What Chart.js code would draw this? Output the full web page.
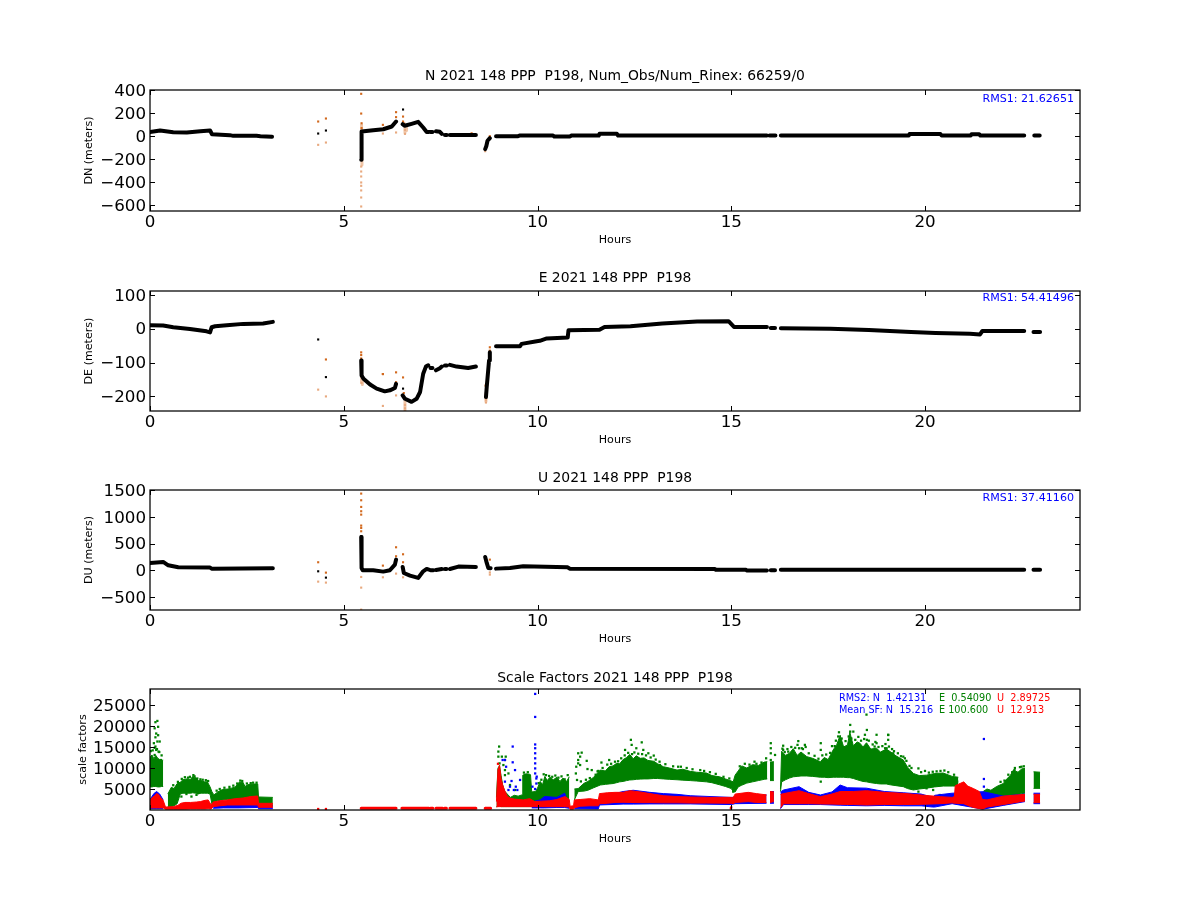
<!DOCTYPE html>
<html>
<head>
<meta charset="utf-8">
<title>PPP P198</title>
<script src="https://cdn.jsdelivr.net/npm/chart.js@4"></script>
<style>
  body { margin: 0; background: #fff; }
  canvas { position: absolute; left: 0; }
</style>
</head>
<body>
<canvas id="north"></canvas>
<canvas id="east"></canvas>
<canvas id="up"></canvas>
<canvas id="scale"></canvas>
<script>
const hourTicks = [0, 5, 10, 15, 20];
const northTicks = [-600, -400, -200, 0, 200, 400];
const eastTicks = [-200, -150, -100, -50, 0, 50, 100];
const upTicks = [-500, 0, 500, 1000, 1500];
const scaleTicks = [5000, 10000, 15000, 20000, 25000];

// null rows break the line where the receiver had no solution
const northHours = [0, .26, .6, .95, 1.3, 1.55, 1.6, 2.06, 2.15, 2.75, 2.85, 3.15, 3.2,
  5.45, 5.46, 5.76, 6.02, 6.24, 6.35, 6.4,
  6.52, 6.57, 6.75, 6.92, 7.05, 7.14, 7.2, 7.22,
  7.24, 7.29, 7.33, 7.38, 7.48, 7.53, 7.57, 7.61, 7.66, 7.7, 7.74, 8.41, 8.5,
  8.65, 8.68, 8.71, 8.77, 8.85,
  8.93, 9.5, 9.55, 10.4, 10.43, 10.84, 10.87, 11.58, 11.6, 12.05, 12.08, 15.92, 15.95,
  15.99, 16.14, 16.2, 16.28, 19.58, 19.6, 20.4, 20.43, 21.18, 21.2, 21.4, 21.43, 22.56, 22.65, 22.82, 22.96];
const northValues = [35, 49, 35, 32, 43, 49, 17, 9, 3, 3, 0, -5, null,
  -205, 40, 52, 60, 84, 127, null,
  104, 90, 107, 124, 75, 37, 37, null,
  37, 37, null, 43, 38, 20, null, 11, 11, null, 11, 11, null,
  -112, -85, -40, -17, null,
  0, 0, 6, 6, -3, -3, 5, 5, 20, 20, 5, 5, null,
  5, 5, null, 5, 5, 18, 18, 5, 5, 17, 17, 5, 5, null, 5, 5];
const northSoloHours = [4.34, 4.54, 6.53, 5.45, 5.45];
const northSoloValues = [23, 49, 231, -170, -190];
const northDarkHours = [4.34, 4.54, 5.45, 5.45, 5.46, 5.46, 6.35, 6.35, 6.01, 6.53, 6.53, 6.56, 8.77, 8.3];
const northDarkValues = [127, 153, 367, 196, 112, 70, 208, 165, 98, 170, 127, 110, 0, 25];
const northPaleHours = [4.34, 4.54, 5.45, 5.45, 5.45, 5.45, 5.45, 5.45, 5.45, 5.45, 6.01, 6.35, 6.58, 6.58, 8.65];
const northPaleValues = [-75, -55, -263, -306, -349, -401, -430, -470, -531, -609, 23, 32, 55, 20, -130];
const northHaloHours = [5.46, 5.46, 5.46, 5.47, 5.47, 5.5, 6.58, 6.58, 6.6, 6.62, 6.62];
const northHaloValues = [100, 40, null, -210, -250, null, 80, 30, null, 90, 50];

const eastHours = [0, .34, .6, 1.03, 1.46, 1.55, 1.59, 1.68, 1.98, 2.41, 2.92, 3.17, 3.2,
  5.45, 5.46, 5.51, 5.68, 5.85, 6.06, 6.19, 6.32, 6.35, 6.4,
  6.52, 6.58, 6.75, 6.88, 6.97, 7.05, 7.12, 7.18, 7.22,
  7.24, 7.29, 7.33, 7.38, 7.48, 7.53, 7.57, 7.61, 7.66, 7.7, 7.74, 7.91, 8.21, 8.41, 8.5,
  8.67, 8.69, 8.75, 8.77, 8.85,
  8.93, 9.55, 9.59, 9.98, 10.06, 10.24, 10.78, 10.8, 11.6, 11.73, 12.4, 13.22, 14.12, 14.93, 15.07, 15.92, 15.95,
  16.02, 16.13, 16.2, 16.28, 17.56, 18.55, 19.64, 20.27, 21.16, 21.42, 21.48, 22.56, 22.65, 22.8, 22.97];
const eastValues = [10, 9, 4, -1, -8, -11, 4, 7, 10, 14, 15, 20, null,
  -94, -138, -148, -165, -177, -185, -182, -175, -163, null,
  -197, -207, -216, -207, -187, -133, -112, -108, null,
  -116, -116, null, -123, -117, -112, null, -109, -109, null, -107, -112, -116, -112, null,
  -202, -172, -94, -70, null,
  -52, -52, -45, -37, -36, -29, -26, -5, -3, 5, 7, 15, 21, 22, 5, 5, null,
  2, 2, null, 1, 0, -4, -10, -13, -15, -17, -7, -7, null, -10, -10];
const eastSoloHours = [4.34, 4.54, 6.53];
const eastSoloValues = [-32, -143, -177];
const eastDarkHours = [4.54, 5.45, 5.45, 5.45, 6.01, 6.35, 6.53, 6.01, 8.66, 8.77, 8.77, 6.35, 6.55];
const eastDarkValues = [-91, -70, -78, -88, -134, -129, -144, -134, -168, -55, -65, -158, -190];
const eastPaleHours = [4.34, 4.54, 6.01, 6.35, 6.58, 6.58, 6.58, 8.67, 8.67, 5.46];
const eastPaleValues = [-180, -200, -228, -197, -225, -235, -243, -210, -218, -160];
const eastHaloHours = [5.46, 5.46, 5.47, 5.48, 5.48, 5.5, 6.58, 6.58, 6.6, 8.67, 8.67];
const eastHaloValues = [-130, -160, null, -140, -165, null, -215, -243, null, -190, -215];

const upHours = [0, .34, .47, .73, 1.55, 1.59, 3.17, 3.2,
  5.45, 5.46, 5.49, 5.76, 6.02, 6.19, 6.32, 6.35, 6.4,
  6.52, 6.55, 6.71, 6.92, 7.05, 7.14, 7.2, 7.22,
  7.24, 7.31, 7.34, 7.38, 7.53, 7.57, 7.61, 7.65, 7.7, 7.74, 7.96, 8.41, 8.5,
  8.65, 8.69, 8.73, 8.79, 8.85,
  8.93, 9.29, 9.63, 10.78, 10.83, 14.58, 14.6, 15.38, 15.4, 15.92, 15.95,
  16.02, 16.13, 16.2, 16.28, 22.56, 22.65, 22.8, 22.97];
const upValues = [137, 156, 93, 56, 50, 31, 37, null,
  623, 43, 0, 0, -25, 0, 106, 199, null,
  62, -50, -100, -143, -19, 25, 12, null,
  0, 0, null, 6, 25, null, 25, 25, null, 25, 69, 62, null,
  249, 137, 44, 37, null,
  31, 44, 75, 56, 31, 25, 12, 12, -6, -6, null,
  0, 0, null, 12, 12, null, 12, 12];
const upSoloHours = [4.34, 4.54, 5.45, 5.45, 5.45, 5.45];
const upSoloValues = [-19, -137, 500, 400, 300, 560];
const upDarkHours = [4.34, 4.54, 5.45, 5.45, 5.45, 5.45, 5.45, 5.45, 5.45, 5.45, 5.45, 6.01, 6.35, 6.35, 6.53, 6.53, 8.77];
const upDarkValues = [150, -44, 1433, 1308, 1184, 1103, 1040, 835, 791, 729, 635, 87, 430, 262, 299, 150, 199];
const upPaleHours = [4.34, 4.54, 5.45, 5.45, 5.45, 6.01, 6.35, 6.53, 8.77, 8.77];
const upPaleValues = [-212, -230, -125, -324, -735, -131, -62, -131, -81, -40];

const greenHours = [0, .05, .1, .15, .2, .25, .3, .34, .4,
  .46, .55, .62, .7, .78, .85, .95, 1.05, 1.1, 1.18, 1.25, 1.32, 1.4, 1.48, 1.55, 1.6,
  1.65, 1.75, 1.85, 2, 2.1, 2.2, 2.3, 2.4, 2.45, 2.55, 2.7, 2.78, 2.8, 3.17, 3.2,
  8.94, 8.98, 9.02, 9.06, 9.1, 9.15, 9.22, 9.3, 9.4, 9.5, 9.6, 9.62, 9.7, 9.8, 9.82, 9.85, 9.95,
  10, 10.07, 10.13, 10.19, 10.25, 10.32, 10.41, 10.5, 10.58, 10.66, 10.75, 10.82, 10.85,
  10.95, 11.05, 11.2, 11.3, 11.45, 11.62, 11.75, 11.85, 11.95, 12.04, 12.12, 12.21, 12.3, 12.38, 12.47,
  12.55, 12.65, 12.75, 12.85, 13, 13.1, 13.25, 13.4, 13.6, 13.75, 13.94, 14.1, 14.36, 14.5, 14.7,
  14.85, 15, 15.05, 15.1, 15.18, 15.27, 15.4, 15.55, 15.7, 15.85, 15.93, 15.96,
  16, 16.1, 16.15,
  16.27, 16.3, 16.4, 16.5, 16.6, 16.7, 16.8, 16.95, 17.1, 17.3, 17.4, 17.5, 17.63, 17.72, 17.81,
  17.9, 18, 18.06, 18.15, 18.25, 18.32, 18.4, 18.49, 18.6, 18.75, 18.85, 19, 19.1, 19.25, 19.44,
  19.55, 19.7, 19.85, 20.04, 20.25, 20.47, 20.7, 20.86, 20.88,
  21.5, 21.6, 21.7, 21.85, 22.02, 22.1, 22.2, 22.28, 22.4, 22.5, 22.58, 22.62,
  22.8, 22.97];
const greenTop = [12500, 13100, 12200, 13000, 12300, 12000, 11800, 11900, null,
  3800, 5400, 5100, 6300, 6600, 7200, 7400, 7300, 8000, 7700, 7000, 7000, 6700, 6700, 5500, 4300,
  3600, 4300, 4800, 5000, 5200, 5500, 6600, 6600, 5600, 6100, 6200, 6200, 3100, 3000, null,
  3000, 10000, 10500, 8200, 6000, 4500, 3800, 3000, 3500, 3300, 3600, 8300, 8600, 8500, 8400, 4300, 4400,
  5200, 6800, 6000, 8000, 7000, 7800, 7200, 7800, 6800, 7600, 6800, 7900, null,
  5000, 5100, 6350, 6800, 7800, 9500, 9300, 10300, 10500, 11100, 11000, 12000, 12500, 13200, 12200,
  12900, 12300, 12400, 11800, 11600, 11000, 10300, 10000, 9500, 9700, 9200, 9000, 8800, 8200, 7900,
  7400, 6900, 6700, 8300, 9300, 10500, 10000, 10800, 10600, 11400, 11500, null,
  11400, 11500, null,
  5000, 14000, 13000, 13500, 14600, 13000, 13800, 12700, 12300, 11500, 12500, 12000, 14300, 15500, 17800,
  15000, 15500, 18500, 15300, 16200, 15900, 15000, 16000, 14500, 14700, 13800, 14500, 13900, 12900, 11900,
  10200, 8700, 8200, 8300, 8700, 8800, 8000, 7800, null,
  4400, 5000, 4700, 5600, 6300, 7300, 8200, 9500, 9000, 9800, 9900, null,
  9100, 9000];
const greenLow = [5500, 5500, 5600, 5600, 5500, 5500, 5600, 5600, null,
  800, 800, 1000, 1500, 3800, 4000, 4000, 4000, 4100, 4000, 3900, 4000, 4000, 4000, 3800, 1300,
  1900, 2200, 2400, 2500, 2500, 2700, 2700, 2800, 2900, 3100, 3300, 3300, 1000, 1000, null,
  800, 1000, 1000, 800, 800, 800, 800, 800, 800, 800, 800, 800, 800, 800, 800, 800, 800,
  800, 800, 800, 800, 800, 800, 800, 800, 800, 800, 800, 800, null,
  2400, 4400, 4500, 4700, 5300, 5950, 6100, 6200, 6300, 6500, 6700, 6800, 7000, 7150, 7200,
  7300, 7350, 7400, 7400, 7500, 7500, 7400, 7300, 7200, 7100, 7000, 6900, 6700, 6500, 6000,
  5600, 5100, 4400, 4300, 5500, 5900, 6400, 6700, 7000, 7300, 7400, null,
  7000, 7000, null,
  4400, 6700, 7200, 7600, 7900, 8000, 8100, 8100, 8000, 7800, 7800, 7700, 7800, 7800, 7800,
  7800, 7700, 7700, 7500, 7200, 7000, 6800, 6700, 6500, 6300, 6200, 6200, 6000, 5800, 5550,
  5100, 4760, 5000, 5200, 5500, 5700, 5700, 5700, null,
  2400, 2400, 2500, 2700, 3000, 3200, 3400, 3500, 3700, 3900, 4000, null,
  5150, 5150];

const blueHours = [0, .1, .17, .25, .34, .38,
  1.63, 1.9, 2.3, 2.78, 2.8, 3.17, 3.2,
  9.85, 10.07, 10.18, 10.5, 10.7, 10.82, 10.84,
  10.95, 11.57, 11.6, 12.21, 12.47, 12.9, 13.25, 13.6, 13.94, 15, 15.1, 15.91, 15.95,
  16, 16.1, 16.15,
  16.27, 16.35, 16.75, 17, 17.3, 17.6, 17.81, 18, 18.49, 18.95, 19.44, 19.9, 20.2, 20.25, 20.7, 21.5,
  22.02, 22.58, 22.62, 22.8, 22.97];
const blueTop = [2500, 3900, 4400, 3800, 2400, null,
  1700, 1800, 1800, 1500, 1000, 1000, null,
  1900, 2400, 3200, 3000, 4000, 1000, null,
  1500, 1500, 3000, 4400, 4700, 4200, 3900, 3730, 3400, 3000, 3000, 3600, null,
  4400, 4400, null,
  4300, 4760, 5550, 4200, 3570, 4300, 5950, 5300, 5200, 4400, 4100, 3800, 3000, 3500, 4000, 4360,
  3300, 3800, null, 4000, 4000];
const blueLow = [300, 300, 300, 300, 300, null,
  400, 500, 500, 600, 300, 300, null,
  500, 500, 500, 600, 600, 400, null,
  300, 250, 1200, 1400, 1400, 1450, 1450, 1450, 1450, 1300, 1500, 1600, null,
  1600, 1600, null,
  300, 1300, 1300, 1300, 1300, 1200, 1150, 1100, 1000, 1100, 1000, 1000, 700, 700, 1500, 200,
  1100, 2000, null, 1500, 1500];

const redHours = [0, .05, .12, .17, .22, .27, .34, .4, .6, .72, .8, .9, 1.05, 1.2, 1.3, 1.42, 1.5, 1.58,
  1.63, 1.8, 2, 2.2, 2.4, 2.6, 2.78, 2.8, 3.17, 3.2,
  8.94, 8.98, 9.02, 9.06, 9.1, 9.15, 9.22, 9.3, 9.4, 9.63, 9.8, 9.93, 10.1, 10.32, 10.5, 10.71, 10.82, 10.84, 10.93,
  10.95, 11.1, 11.35, 11.57, 11.6, 11.8, 12, 12.21, 12.39, 12.65, 12.9, 13.25, 13.6, 13.94, 14.36, 15, 15.05, 15.1,
  15.44, 15.65, 15.91, 15.95,
  16, 16.1, 16.15,
  16.27, 16.35, 16.75, 17, 17.3, 17.6, 17.81, 18.15, 18.49, 18.95, 19.44, 19.9, 20.4, 20.7, 20.76, 20.78,
  21, 21.1, 21.25, 21.4, 21.48, 21.6, 22.02, 22.58, 22.62,
  22.8, 22.97];
const redTop = [2200, 2900, 3400, 3900, 3700, 3000, 2300, 700, 800, 1100, 1600, 1800, 1800, 1900, 2000, 2300, 2400, 1200,
  1900, 2200, 2400, 2700, 2850, 3200, 3330, 1590, 1590, null,
  2000, 9500, 10700, 7500, 6000, 4700, 3300, 2800, 2600, 2400, 2700, 2000, 2100, 2200, 2500, 3200, 2500, 900, 1000,
  2400, 2500, 2700, 2400, 3900, 4100, 4200, 4200, 4600, 4300, 3900, 3400, 3200, 3100, 3000, 3000, 3000, 3800,
  4200, 3900, 3600, null,
  4400, 4300, null,
  3700, 3900, 4600, 3900, 3170, 3800, 4400, 4400, 4600, 4200, 3960, 3570, 3170, 3000, 3200, 5800,
  6700, 5700, 5100, 4400, 2500, 2400, 3300, 3730, null,
  3730, 3730];
const redLow = [500, 500, 500, 500, 500, 500, 500, 200, 200, 200, 200, 200, 240, 240, 240, 240, 300, 240,
  800, 1000, 1190, 1190, 1200, 1200, 1200, 640, 640, null,
  700, 800, 800, 800, 800, 800, 800, 800, 800, 800, 800, 800, 800, 800, 800, 800, 700, 200, 200,
  500, 900, 1000, 1000, 1500, 1600, 1800, 1830, 1800, 1750, 1750, 1700, 1700, 1650, 1650, 1600, 1500, 1800,
  2000, 1800, 1800, null,
  1800, 2000, null,
  500, 1500, 1500, 1500, 1430, 1400, 1350, 1300, 1190, 1300, 1300, 1350, 1500, 1700, 1600, 1600,
  1500, 1100, 600, 350, 200, 700, 1300, 2140, null,
  1750, 1750];
const redStripHours = [5.45, 6.35, 6.4, 6.5, 7.2, 7.22, 7.24, 7.3, 7.33, 7.38, 7.55, 7.57, 7.6, 7.65, 7.7, 7.74, 8.41, 8.5, 8.65, 8.79];
const redStripValues = [400, 400, null, 400, 400, null, 400, 400, null, 400, 400, null, 400, 400, null, 400, 400, null, 400, 400];

const greenDotHours = [.19, .14, .21, .12, .16, .14, .21, .1, .19, .25, .14, .22, .16, .12, .28,
  .72, .81, .94, 1.07, 1.24, 1.2,
  9.01, 8.99, 8.99, 9.08, 9.18, 9.16, 9.12, 9.16, 9.16, 9.25, 9.02, 9.29, 9.42,
  11.05, 11.14, 11.1, 11.05, 11.05, 11.1, 11.27, 11.29, 11.4, 11.57, 11.65, 10.99, 11.02, 11,
  11.85, 12.26, 12.41, 12.43, 12.55, 12.69, 12.73, 12.86, 13, 13.16, 13.46, 13.63,
  16.02, 16.02, 16.02, 16.02, 16.13, 16.34, 16.34, 16.47, 16.73, 16.71, 16.82, 16.9,
  17.31, 17.31, 17.31, 17.68, 17.76, 17.81, 17.89, 18.07, 18.07, 18.07, 18.15,
  18.5, 18.45, 18.5, 18.75, 18.75, 18.7, 19.05, 18.97, 18.49,
  19.05, 19.05, 19.01, 19.18, 19.44, 19.83, 19.83, 20.04, 20.21, 20.38, 20.83, 22.49, 22.31, 15.05];
const greenDotValues = [21200, 20900, 19800, 19450, 18200, 17300, 17800, 15900, 16300, 16300, 15100, 13900, 14300, 13100, 11900,
  3800, 3200, 3800, 3200, 4000, 3600,
  15100, 13900, 12700, 12700, 12700, 11900, 10700, 9500, 8300, 8700, 11100, 5950, 4760,
  13500, 13650, 12700, 11900, 11100, 10700, 11700, 9750, 9500, 9300, 11300, 8700, 7150, 10300,
  11900, 14300, 16700, 15500, 14700, 16100, 14300, 13500, 12950, 10700, 9500, 10300,
  15900, 14700, 13500, 11900, 13100, 15300, 14300, 13900, 16400, 15500, 14700, 15500,
  15900, 14300, 6750, 13900, 17500, 15900, 14700, 20250, 18660, 17100, 18660,
  19050, 17900, 16700, 17900, 15900, 15100, 17900, 14700, 22700,
  17850, 16700, 14700, 13500, 12700, 9900, 4370, 5160, 4760, 3570, 6750, 10300, 9500, 4370];
// speckle just above the solid part of the green band
const greenFringeHours = [.02, .07, .12, .18, .24, .3,
  .6, .72, .82, .9, .98, 1.03, 1.12, 1.15, 1.22, 1.3, 1.36, 1.44, 1.5,
  1.72, 1.8, 1.92, 2.05, 2.15, 2.25, 2.33, 2.38, 2.5, 2.6, 2.66, 2.75,
  9.65, 9.75, 10.03, 10.1, 10.16, 10.22, 10.3, 10.38, 10.46, 10.54, 10.62, 10.7, 10.78,
  11.12, 11.25, 11.35, 11.5, 11.55, 11.68, 11.8, 11.9, 12, 12.08, 12.16, 12.25, 12.34, 12.44, 12.5, 12.6, 12.7, 12.8, 12.92,
  13.05, 13.15, 13.3, 13.5, 13.7, 13.85, 14, 14.2, 14.3, 14.45, 14.6, 14.8, 14.95,
  15.22, 15.35, 15.47, 15.6, 15.65, 15.78, 15.9,
  16.32, 16.38, 16.45, 16.55, 16.65, 16.75, 16.85, 16.92, 17, 17.15, 17.25, 17.35, 17.45, 17.55, 17.6, 17.67, 17.7, 17.78, 17.85, 17.95,
  18.03, 18.1, 18.2, 18.28, 18.35, 18.43, 18.55, 18.65, 18.72, 18.8, 18.9, 18.98, 19.07, 19.15, 19.2, 19.3, 19.38, 19.48, 19.52, 19.6, 19.65,
  19.9, 20, 20.1, 20.2, 20.3, 20.4, 20.5, 20.6, 20.75,
  21.95, 22.05, 22.15, 22.25, 22.32, 22.45, 22.55];
const greenFringeValues = [14000, 14200, 14800, 14500, 13800, 13000,
  5900, 6700, 7400, 7800, 7700, 7900, 8300, 8000, 7500, 7300, 7200, 7100, 6900,
  4600, 5000, 5300, 5500, 5800, 6300, 7000, 6900, 6300, 6400, 6500, 6500,
  8900, 9000, 6400, 7200, 8500, 8300, 8100, 7900, 8200, 7700, 8000, 7300, 8300,
  6800, 7200, 7600, 8400, 9200, 10000, 10800, 11000, 11500, 11600, 12300, 13000, 13600, 13300, 13700, 13400, 13300, 13000, 12500,
  12000, 11500, 10900, 10400, 10300, 10000, 9700, 9500, 9300, 9000, 8600, 7900, 7500,
  10400, 11000, 10800, 11500, 11000, 11300, 12300,
  14600, 13800, 14500, 15000, 14800, 14700, 14500, 15000, 13500, 12900, 12200, 13000, 13200, 13600, 15200, 15200, 16500, 18500, 17000, 16400,
  17500, 17000, 16700, 17400, 16500, 16900, 16500, 15600, 16200, 15000, 15200, 15700, 15100, 14500, 14000, 13500, 12800, 12300, 11700, 10500, 10000,
  9000, 9300, 8900, 9100, 9200, 9300, 9400, 9000, 8400,
  6700, 7000, 8400, 9000, 10000, 10200, 10400];
const blueDotHours = [9.94, 9.94, 9.94, 9.94, 9.94, 9.94, 9.94, 9.94, 9.94, 9.97, 9.97, 9.94,
  9.36, 9.36, 9.16, 9.1, 9.19, 9.42, 9.55, 9.33, 9.44, 9.29, 9.25, 9.16, 9.39, 9.48, 9.87, 9.98,
  21.52, 21.52, 21.52];
const blueDotValues = [27630, 22150, 15600, 14700, 13500, 12300, 11100, 9900, 8700, 7500, 6300, 5000,
  15100, 11350, 11900, 11900, 10300, 9500, 7150, 6900, 5550, 5550, 4760, 6750, 4760, 4760, 5550, 7940,
  16900, 7380, 5560];
const redDotHours = [4.34, 4.54, 8.98, 9, 14.99, 15, 21.5];
const redDotValues = [240, 240, 11000, 9500, 400, 600, 500];

const tickFont = { family: "DejaVu Sans", size: 16.7 };
const labelFont = { family: "DejaVu Sans", size: 11.1 };
const black = "#000000";
const darkOrange = "#d2691e";
const paleOrange = "#e8a97f";
const palerOrange = "#f0c6a8";

function points(hours, values) {
  return hours.map((h, i) => ({ x: h, y: values[i] }));
}

function lineSet(hours, values, color, width) {
  return {
    data: points(hours, values),
    borderColor: color,
    borderWidth: width,
    borderCapStyle: "round",
    borderJoinStyle: "round",
    pointRadius: 0,
    spanGaps: false,
  };
}

function dotSet(hours, values, color, radius) {
  return {
    data: points(hours, values),
    showLine: false,
    pointStyle: "rect",
    pointRadius: radius,
    pointBorderWidth: 0,
    pointBackgroundColor: color,
  };
}

function bandSets(hours, top, low, color) {
  const upper = lineSet(hours, top, color, 1);
  upper.fill = "+1";
  upper.backgroundColor = color;
  upper.borderCapStyle = "butt";
  const lower = lineSet(hours, low, color, 1);
  lower.borderCapStyle = "butt";
  return [upper, lower];
}

// matplotlib style frame with the ticks on the inside of all four sides
const framePlugin = {
  id: "frame",
  afterDraw(chart) {
    const { ctx, chartArea: area, scales } = chart;
    ctx.save();
    ctx.strokeStyle = black;
    ctx.lineWidth = 1;
    ctx.beginPath();
    scales.x.ticks.forEach((t) => {
      const px = Math.round(scales.x.getPixelForValue(t.value)) + 0.5;
      ctx.moveTo(px, area.top);
      ctx.lineTo(px, area.top + 5);
      ctx.moveTo(px, area.bottom);
      ctx.lineTo(px, area.bottom - 5);
    });
    scales.y.ticks.forEach((t) => {
      const py = Math.round(scales.y.getPixelForValue(t.value)) + 0.5;
      ctx.moveTo(area.left, py);
      ctx.lineTo(area.left + 5, py);
      ctx.moveTo(area.right, py);
      ctx.lineTo(area.right - 5, py);
    });
    ctx.stroke();
    ctx.lineWidth = 1.25;
    ctx.strokeRect(area.left, area.top, area.right - area.left, area.bottom - area.top);
    ctx.restore();
    (chart.config.options.notes || []).forEach((n) => {
      ctx.save();
      ctx.fillStyle = n.color;
      ctx.font = `${n.size}px "DejaVu Sans"`;
      ctx.textAlign = n.align;
      ctx.textBaseline = "middle";
      ctx.fillText(n.text, n.x, area.top + n.dy);
      ctx.restore();
    });
  },
};

function drawPanel(id, top, height, title, titlePad, yLabel, yMin, yMax, yTicks, labelGap, datasets, notes) {
  const canvas = document.getElementById(id);
  const titleSpace = 28;
  const xSpace = 45;
  canvas.style.top = `${top - titleSpace}px`;
  canvas.width = 1200;
  canvas.height = titleSpace + height + xSpace;
  return new Chart(canvas, {
    type: "line",
    data: { datasets },
    plugins: [framePlugin],
    options: {
      notes,
      responsive: false,
      animation: false,
      devicePixelRatio: 1,
      layout: { padding: { right: 120 } },
      elements: { line: { tension: 0 } },
      plugins: {
        legend: { display: false },
        tooltip: { enabled: false },
        title: {
          display: true,
          text: title,
          fullSize: false,
          color: black,
          font: { family: "DejaVu Sans", size: 13.9, weight: "normal", lineHeight: 16 / 13.9 },
          padding: { top: titlePad, bottom: 12 - titlePad },
        },
      },
      scales: {
        x: {
          type: "linear",
          min: 0,
          max: 24,
          afterBuildTicks(scale) {
            scale.ticks = hourTicks.map((v) => ({ value: v }));
          },
          afterFit(scale) {
            scale.height = xSpace;
          },
          grid: { display: false, drawTicks: false },
          border: { display: false },
          ticks: { color: black, font: tickFont, padding: 2, maxRotation: 0, callback: (v) => String(v) },
          title: { display: true, text: "Hours", color: black, font: labelFont, padding: { top: 0, bottom: 9 } },
        },
        y: {
          type: "linear",
          min: yMin,
          max: yMax,
          afterBuildTicks(scale) {
            scale.ticks = yTicks.map((v) => ({ value: v }));
          },
          afterFit(scale) {
            scale.width = 150;
          },
          grid: { display: false, drawTicks: false },
          border: { display: false },
          ticks: { color: black, font: tickFont, padding: 4, labelOffset: 1.5, callback: (v) => String(v).replace("-", "\u2212") },
          title: { display: true, text: yLabel, color: black, font: labelFont, padding: { top: labelGap, bottom: 0 } },
        },
      },
    },
  });
}

function rmsNote(text, dy) {
  return [{ text, x: 1074, dy, size: 11.1, color: "#0000ff", align: "right" }];
}

drawPanel("north", 90, 121, "N 2021 148 PPP  P198, Num_Obs/Num_Rinex: 66259/0", 6, "DN (meters)", -648, 400, northTicks, 82, [
  lineSet(northHours, northValues, black, 4),
  dotSet(northSoloHours, northSoloValues, black, 1.5),
  dotSet(northDarkHours, northDarkValues, darkOrange, 1.5),
  dotSet(northPaleHours, northPaleValues, paleOrange, 1.5),
  lineSet(northHaloHours, northHaloValues, palerOrange, 3),
], rmsNote("RMS1: 21.62651", 9));

drawPanel("east", 291, 120, "E 2021 148 PPP  P198", 7, "DE (meters)", -243, 111, eastTicks, 82, [
  lineSet(eastHours, eastValues, black, 4),
  dotSet(eastSoloHours, eastSoloValues, black, 1.5),
  dotSet(eastDarkHours, eastDarkValues, darkOrange, 1.5),
  dotSet(eastPaleHours, eastPaleValues, paleOrange, 1.5),
  lineSet(eastHaloHours, eastHaloValues, palerOrange, 3),
], rmsNote("RMS1: 54.41496", 7));

drawPanel("up", 490, 120, "U 2021 148 PPP  P198", 8, "DU (meters)", -742, 1500, upTicks, 82, [
  lineSet(upHours, upValues, black, 4),
  dotSet(upSoloHours, upSoloValues, black, 1.5),
  dotSet(upDarkHours, upDarkValues, darkOrange, 1.5),
  dotSet(upPaleHours, upPaleValues, paleOrange, 1.5),
], rmsNote("RMS1: 37.41160", 8));

drawPanel("scale", 689, 121, "Scale Factors 2021 148 PPP  P198", 9, "scale factors", 0, 28800, scaleTicks, 76, [
  dotSet(redDotHours, redDotValues, "#ff0000", 1.6),
  ...bandSets(redHours, redTop, redLow, "#ff0000"),
  lineSet(redStripHours, redStripValues, "#ff0000", 3),
  dotSet(blueDotHours, blueDotValues, "#0000ff", 1.6),
  ...bandSets(blueHours, blueTop, blueLow, "#0000ff"),
  dotSet(greenDotHours, greenDotValues, "#008000", 1.6),
  dotSet(greenFringeHours, greenFringeValues, "#008000", 1.6),
  ...bandSets(greenHours, greenTop, greenLow, "#008000"),
], [
  { text: "RMS2: N  1.42131", x: 839, dy: 9, size: 9.7, color: "#0000ff", align: "left" },
  { text: "E  0.54090", x: 939, dy: 9, size: 9.7, color: "#008000", align: "left" },
  { text: "U  2.89725", x: 997, dy: 9, size: 9.7, color: "#ff0000", align: "left" },
  { text: "Mean SF: N  15.216", x: 839, dy: 21, size: 9.7, color: "#0000ff", align: "left" },
  { text: "E 100.600", x: 939, dy: 21, size: 9.7, color: "#008000", align: "left" },
  { text: "U  12.913", x: 997, dy: 21, size: 9.7, color: "#ff0000", align: "left" },
]);
</script>
</body>
</html>
